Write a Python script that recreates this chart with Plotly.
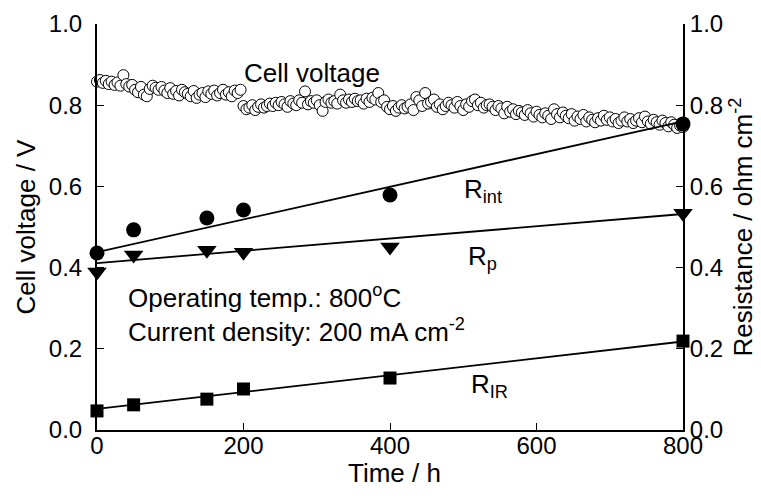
import numpy as np
import plotly.graph_objects as go

# ---- data ----
# cell voltage, one reading every 4 h from 0 to 800 h
voltage_step_h = 4
cell_voltage = [
    0.858, 0.862, 0.855, 0.860, 0.852, 0.858, 0.850, 0.856, 0.848, 0.874,
    0.852, 0.846, 0.850, 0.838, 0.832, 0.845, 0.826, 0.822, 0.840, 0.848,
    0.843, 0.838, 0.845, 0.836, 0.830, 0.842, 0.828, 0.835, 0.824, 0.838,
    0.832, 0.828, 0.822, 0.835, 0.818, 0.826, 0.830, 0.820, 0.834, 0.828,
    0.836, 0.824, 0.830, 0.838, 0.826, 0.832, 0.822, 0.836, 0.830, 0.838,
    0.798, 0.790, 0.794, 0.800, 0.788, 0.796, 0.802, 0.794, 0.798, 0.804,
    0.798, 0.806, 0.800, 0.808, 0.802, 0.796, 0.810, 0.804, 0.800, 0.812,
    0.806, 0.834, 0.802, 0.810, 0.806, 0.812, 0.800, 0.786, 0.808, 0.814,
    0.806, 0.810, 0.804, 0.826, 0.812, 0.806, 0.814, 0.808, 0.816, 0.810,
    0.812, 0.804, 0.816, 0.808, 0.818, 0.814, 0.830, 0.808, 0.812, 0.796,
    0.790, 0.798, 0.786, 0.794, 0.800, 0.792, 0.796, 0.802, 0.788, 0.820,
    0.812, 0.798, 0.830, 0.804, 0.808, 0.814, 0.796, 0.802, 0.790, 0.798,
    0.806, 0.800, 0.794, 0.808, 0.798, 0.788, 0.802, 0.796, 0.810, 0.814,
    0.800, 0.806, 0.794, 0.800, 0.802, 0.796, 0.788, 0.798, 0.792, 0.780,
    0.796, 0.784, 0.790, 0.778, 0.786, 0.782, 0.776, 0.788, 0.780, 0.772,
    0.784, 0.776, 0.770, 0.780, 0.774, 0.766, 0.790, 0.778, 0.770, 0.782,
    0.774, 0.768, 0.778, 0.762, 0.772, 0.766, 0.776, 0.760, 0.770, 0.764,
    0.758, 0.768, 0.762, 0.774, 0.764, 0.770, 0.760, 0.766, 0.756, 0.762,
    0.770, 0.760, 0.766, 0.756, 0.762, 0.768, 0.758, 0.772, 0.760, 0.754,
    0.764, 0.758, 0.752, 0.762, 0.756, 0.748, 0.758, 0.752, 0.744, 0.750,
    0.746,
]
voltage_time = np.arange(len(cell_voltage)) * voltage_step_h

# resistances measured at discrete times
res_time = [0, 50, 150, 200, 400, 800]
r_int = [0.436, 0.493, 0.522, 0.542, 0.579, 0.754]
r_p = [0.389, 0.431, 0.443, 0.438, 0.451, 0.534]
r_ir = [0.047, 0.062, 0.076, 0.101, 0.128, 0.219]

# straight trend lines drawn in the reference (end values)
fit_time = [0, 800]
r_int_fit = [0.438, 0.760]
r_p_fit = [0.411, 0.532]
r_ir_fit = [0.052, 0.218]

x_ticks = [0, 200, 400, 600, 800]
y_ticks = [0.0, 0.2, 0.4, 0.6, 0.8, 1.0]

FONT = "Liberation Sans, Arial, Helvetica, sans-serif"

fig = go.Figure()

fig.add_trace(go.Scatter(
    x=voltage_time, y=cell_voltage, mode="markers", yaxis="y",
    marker=dict(symbol="circle", size=11, color="white",
                line=dict(color="black", width=1)),
    cliponaxis=False, showlegend=False))

for yfit in (r_int_fit, r_p_fit, r_ir_fit):
    fig.add_trace(go.Scatter(
        x=fit_time, y=yfit, mode="lines", yaxis="y2",
        line=dict(color="black", width=1.8), showlegend=False))

fig.add_trace(go.Scatter(
    x=res_time, y=r_int, mode="markers", yaxis="y2",
    marker=dict(symbol="circle", size=15, color="black"),
    cliponaxis=False, showlegend=False))
fig.add_trace(go.Scatter(
    x=res_time, y=r_p, mode="markers", yaxis="y2",
    marker=dict(symbol="triangle-down", size=17, color="black"),
    cliponaxis=False, showlegend=False))
fig.add_trace(go.Scatter(
    x=res_time, y=r_ir, mode="markers", yaxis="y2",
    marker=dict(symbol="square", size=13, color="black"),
    cliponaxis=False, showlegend=False))

axis_common = dict(
    showgrid=False, zeroline=False, showline=True, linecolor="black",
    linewidth=2, ticks="inside", ticklen=7, tickwidth=1, tickcolor="black",
    automargin=False,
    tickfont=dict(family=FONT, size=24, color="black"))

title_font = dict(family=FONT, size=26, color="black")

# the page body adds an 8px offset; the figure is sized to fit the window
fig.update_layout(
    width=753, height=490,
    margin=dict(l=89, r=78, t=16, b=68),
    paper_bgcolor="white", plot_bgcolor="white",
    font=dict(family=FONT, color="black"),
    xaxis=dict(range=[0, 800], tickvals=x_ticks, ticklabelstandoff=-7,
               **axis_common),
    yaxis=dict(range=[0, 1.0], tickvals=y_ticks, tickformat=".1f",
               ticklabelstandoff=8,
               title=dict(text="Cell voltage / V", font=title_font,
                          standoff=6),
               **axis_common),
    yaxis2=dict(range=[0, 1.0], tickvals=y_ticks, tickformat=".1f",
                overlaying="y", side="right",
                title=dict(text="Resistance / ohm cm<sup>-2</sup>",
                           font=title_font, standoff=12),
                **axis_common),
)

ann_font = dict(family=FONT, size=26, color="black")
annotations = [
    dict(x=294, y=0.879, text="Cell voltage", xanchor="center", yanchor="middle"),
    dict(x=527, y=0.59, text="R<sub>int</sub>", xanchor="center", yanchor="middle"),
    dict(x=526, y=0.425, text="R<sub>p</sub>", xanchor="center", yanchor="middle"),
    dict(x=536, y=0.11, text="R<sub>IR</sub>", xanchor="center", yanchor="middle"),
    dict(x=40, y=0.328, text="Operating temp.: 800<sup>o</sup>C",
         xanchor="left", yanchor="middle"),
    dict(x=40, y=0.246, text="Current density: 200 mA cm<sup>-2</sup>",
         xanchor="left", yanchor="middle"),
]
for a in annotations:
    fig.add_annotation(xref="x", yref="y", showarrow=False, font=ann_font, **a)

# x-axis title
fig.add_annotation(xref="paper", yref="paper", x=0.508, y=-0.107,
                   text="Time / h", showarrow=False, xanchor="center",
                   yanchor="middle", font=title_font)

fig.write_html("out.html")
